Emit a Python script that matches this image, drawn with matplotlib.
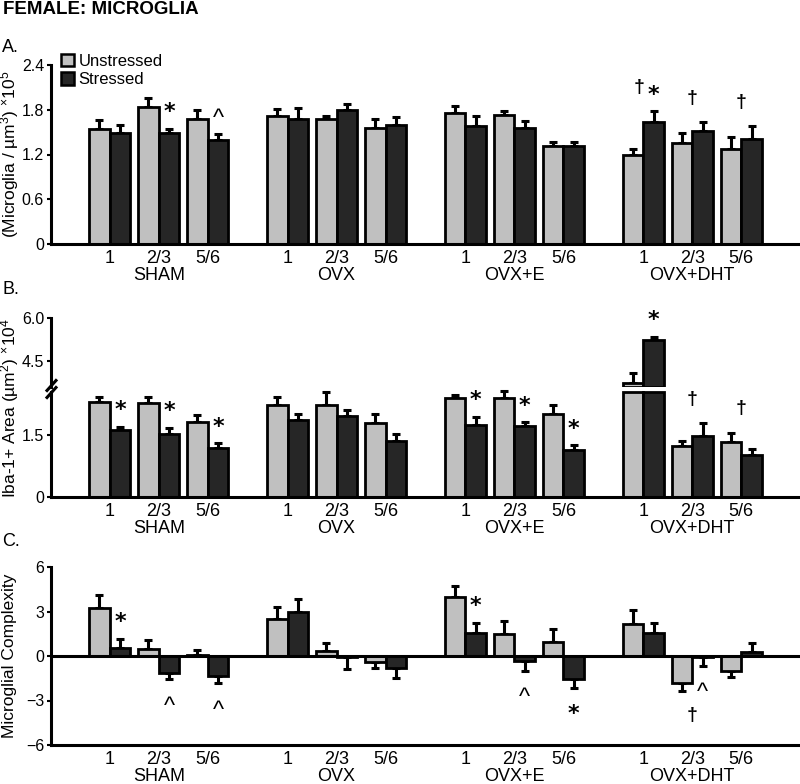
import matplotlib
matplotlib.use("Agg")
import matplotlib.pyplot as plt
from matplotlib.patches import Patch
from matplotlib.lines import Line2D
import numpy as np

plt.rcParams['font.family'] = ['Liberation Sans', 'DejaVu Sans']
plt.rcParams['mathtext.fontset'] = 'custom'
plt.rcParams['mathtext.rm'] = 'Liberation Sans'
plt.rcParams['mathtext.it'] = 'Liberation Sans:italic'

groups = ["SHAM", "OVX", "OVX+E", "OVX+DHT"]
ages = ["1", "2/3", "5/6"]

# A. microglia density (x10^5 / um^3), order: group x age
dens_unstr = [1.54, 1.84, 1.67, 1.72, 1.67, 1.56, 1.75, 1.73, 1.32, 1.20, 1.35, 1.28]
dens_unstr_err = [0.12, 0.12, 0.12, 0.09, 0.05, 0.11, 0.10, 0.05, 0.05, 0.08, 0.14, 0.15]
dens_str = [1.49, 1.49, 1.39, 1.68, 1.80, 1.60, 1.58, 1.55, 1.32, 1.64, 1.51, 1.41]
dens_str_err = [0.10, 0.05, 0.08, 0.14, 0.08, 0.10, 0.14, 0.10, 0.05, 0.14, 0.12, 0.17]

# B. Iba-1+ area (x10^4 um^2)
area_unstr = [2.29, 2.28, 1.82, 2.22, 2.24, 1.78, 2.40, 2.39, 2.00, 3.74, 1.24, 1.32]
area_unstr_err = [0.14, 0.15, 0.17, 0.20, 0.30, 0.24, 0.08, 0.18, 0.23, 0.33, 0.12, 0.24]
area_str = [1.62, 1.53, 1.18, 1.86, 1.95, 1.36, 1.74, 1.72, 1.14, 5.24, 1.48, 1.01]
area_str_err = [0.08, 0.15, 0.12, 0.16, 0.16, 0.17, 0.20, 0.09, 0.11, 0.12, 0.32, 0.15]

# C. microglial complexity
cx_unstr = [3.26, 0.47, 0.04, 2.49, 0.31, -0.38, 4.00, 1.48, 0.92, 2.16, -1.80, -0.99]
cx_unstr_err = [0.85, 0.60, 0.36, 0.84, 0.54, 0.45, 0.72, 0.88, 0.90, 0.94, 0.54, 0.45]
cx_str = [0.52, -1.12, -1.35, 2.97, -0.09, -0.83, 1.57, -0.31, -1.57, 1.53, -0.09, 0.29]
cx_str_err = [0.63, 0.45, 0.49, 0.87, 0.81, 0.67, 0.68, 0.68, 0.56, 0.67, 0.56, 0.61]

# significance marks: (pair index, symbol, anchor) S = stressed bar, P = pair
marks_a = [(1, "*", "S"), (2, "^", "S"), (9, "†", "L"), (9, "*", "S"), (10, "†", "P"), (11, "†", "P")]
marks_b = [(0, "*", "S"), (1, "*", "S"), (2, "*", "S"), (6, "*", "S"), (7, "*", "S"), (8, "*", "S"),
           (9, "*", "S"), (10, "†", "P"), (11, "†", "P")]
marks_c = [(0, "*", "S"), (1, "^", "S"), (2, "^", "S"), (6, "*", "S"), (7, "^", "S"), (8, "*", "S"),
           (10, "^", "S"), (10, "†", "P")]

UNSTR = "#c0c0c0"
STR = "#262626"
W = 0.42
GROUP_STEP = 3.63
centers = np.array([g * GROUP_STEP + p for g in range(len(groups)) for p in range(len(ages))])
XLIM = (-1.2, 14.09)
FS = 13

W_PX, H_PX = 800, 784
fig = plt.figure(figsize=(W_PX / 100, H_PX / 100), dpi=100)


def fx(px):
    return px / W_PX


def fy(py):
    return 1 - py / H_PX


def make_ax(top, bottom, labels=True):
    ax = fig.add_axes([fx(51), fy(bottom), 1 - fx(51), (bottom - top) / H_PX])
    ax.set_xlim(*XLIM)
    for s in ["top", "right"]:
        ax.spines[s].set_visible(False)
    for s in ["left", "bottom"]:
        ax.spines[s].set_linewidth(2.2)
    ax.tick_params(axis="y", direction="out", length=3, width=1.5, labelsize=11.5, pad=2)
    ax.tick_params(axis="x", length=0, labelsize=FS, pad=4)
    if not labels:
        ax.set_xticks([])
        return ax
    ax.set_xticks(centers)
    ax.set_xticklabels(ages * len(groups))
    for g, name in enumerate(groups):
        ax.annotate(name, xy=(centers[3 * g + 1], 0), xycoords=("data", "axes fraction"),
                    xytext=(0, -22.5), textcoords="offset points",
                    ha="center", va="center", fontsize=FS)
    return ax


def draw(ax, vals, errs, dx, color, lo=None, hi=None):
    vals = np.asarray(vals, float)
    errs = np.asarray(errs, float)
    x = centers + dx
    if lo is not None:
        m = vals > lo
        x, errs, vals = x[m], errs[m], vals[m]
        ax.bar(x, vals - lo, W, bottom=lo, color=color, edgecolor="k", lw=2, zorder=2)
    elif hi is not None:
        ax.bar(x, np.minimum(vals, hi), W, color=color, edgecolor="k", lw=2, zorder=2, clip_on=False)
        m = vals <= hi
        x, errs, vals = x[m], errs[m], vals[m]
    else:
        ax.bar(x, vals, W, color=color, edgecolor="k", lw=2, zorder=2)
    yerr = [np.where(vals < 0, errs, 0), np.where(vals >= 0, errs, 0)]
    ax.errorbar(x, vals, yerr=yerr, fmt="none", ecolor="k", elinewidth=2.2,
                capsize=3, capthick=2.2, zorder=1, clip_on=False)


def cap(v, e):
    return v + e if v >= 0 else v - e


def mark(ax, i, sym, anchor, u, ue, s, se):
    if anchor == "S":
        x = centers[i] + W / 2
        y = cap(s[i], se[i])
        up = s[i] >= 0
    else:
        x = centers[i] if anchor == "P" else centers[i] + W / 2 - 0.3
        up = (u[i] + s[i]) >= 0
        y = max(cap(u[i], ue[i]), cap(s[i], se[i])) if up else min(cap(u[i], ue[i]), cap(s[i], se[i]))
    if sym == "*":
        kw = dict(fontsize=16, weight="bold", family="DejaVu Sans")
        off = 12 if up else -19
    elif sym == "^":
        kw = dict(fontsize=17)
        off = 11 if up else -20
    else:
        kw = dict(fontsize=14, weight="bold")
        off = 17 if up else -18
    ax.annotate(sym, xy=(x, y), xytext=(0, off), textcoords="offset points",
                ha="center", va="center", annotation_clip=False, **kw)


# ---- panel A
ax_a = make_ax(65, 244)
ax_a.set_ylim(0, 2.4)
ax_a.set_yticks([0, 0.6, 1.2, 1.8, 2.4])
ax_a.set_yticklabels(["0", "0.6", "1.2", "1.8", "2.4"])
draw(ax_a, dens_unstr, dens_unstr_err, -W / 2, UNSTR)
draw(ax_a, dens_str, dens_str_err, W / 2, STR)
for i, sym, anc in marks_a:
    mark(ax_a, i, sym, anc, dens_unstr, dens_unstr_err, dens_str, dens_str_err)
ax_a.legend(handles=[Patch(fc=UNSTR, ec="k", lw=1.8), Patch(fc=STR, ec="k", lw=1.8)],
            labels=["Unstressed", "Stressed"], loc="upper left",
            bbox_to_anchor=(fx(61), fy(54)), bbox_transform=fig.transFigure,
            frameon=False, handlelength=0.75, handleheight=0.75, handletextpad=0.3,
            labelspacing=0.2, borderpad=0, borderaxespad=0, fontsize=12)

# ---- panel B (broken axis)
B_LO_TOP = 2.55
B_HI_BOT = 3.6
ax_b = make_ax(391.7, 497)
ax_b.set_ylim(0, B_LO_TOP)
ax_b.set_yticks([0, 1.5])
ax_b.set_yticklabels(["0", "1.5"])
draw(ax_b, area_unstr, area_unstr_err, -W / 2, UNSTR, hi=B_LO_TOP)
draw(ax_b, area_str, area_str_err, W / 2, STR, hi=B_LO_TOP)

ax_b2 = make_ax(318.3, 386.7, labels=False)
ax_b2.set_ylim(B_HI_BOT, 6.0)
ax_b2.spines["bottom"].set_visible(False)
ax_b2.set_yticks([4.5, 6.0])
ax_b2.set_yticklabels(["4.5", "6.0"])
ax_b2.patch.set_alpha(0)
draw(ax_b2, area_unstr, area_unstr_err, -W / 2, UNSTR, lo=B_HI_BOT)
draw(ax_b2, area_str, area_str_err, W / 2, STR, lo=B_HI_BOT)

for i, sym, anc in marks_b:
    target = ax_b2 if max(area_unstr[i], area_str[i]) > B_LO_TOP else ax_b
    mark(target, i, sym, anc, area_unstr, area_unstr_err, area_str, area_str_err)

for yb in (385.5, 392.5):
    fig.add_artist(Line2D([fx(47), fx(56)], [fy(yb + 5), fy(yb - 5)],
                          transform=fig.transFigure, color="k", lw=2.2))

# ---- panel C
ax_c = make_ax(567, 745)
ax_c.set_ylim(-6, 6)
ax_c.set_yticks([-6, -3, 0, 3, 6])
ax_c.axhline(0, color="k", lw=2.2, zorder=3)
draw(ax_c, cx_unstr, cx_unstr_err, -W / 2, UNSTR)
draw(ax_c, cx_str, cx_str_err, W / 2, STR)
for i, sym, anc in marks_c:
    mark(ax_c, i, sym, anc, cx_unstr, cx_unstr_err, cx_str, cx_str_err)

# ---- text
fig.text(fx(3), fy(10), "FEMALE: MICROGLIA", fontsize=13.5, weight="bold", va="center")
for lab, py in (("A.", 47), ("B.", 289), ("C.", 541)):
    fig.text(fx(2), fy(py), lab, fontsize=13, va="center")
ylabels = [(r"(Microglia / µm$^3$) $^{\times}$10$^5$", 154),
           (r"Iba-1+ Area (µm$^2$) $^{\times}$10$^4$", 408),
           ("Microglial Complexity", 656)]
for lab, py in ylabels:
    fig.text(fx(10), fy(py), lab, rotation=90, fontsize=12.5, ha="center", va="center")

fig.savefig("out.png", dpi=100)
